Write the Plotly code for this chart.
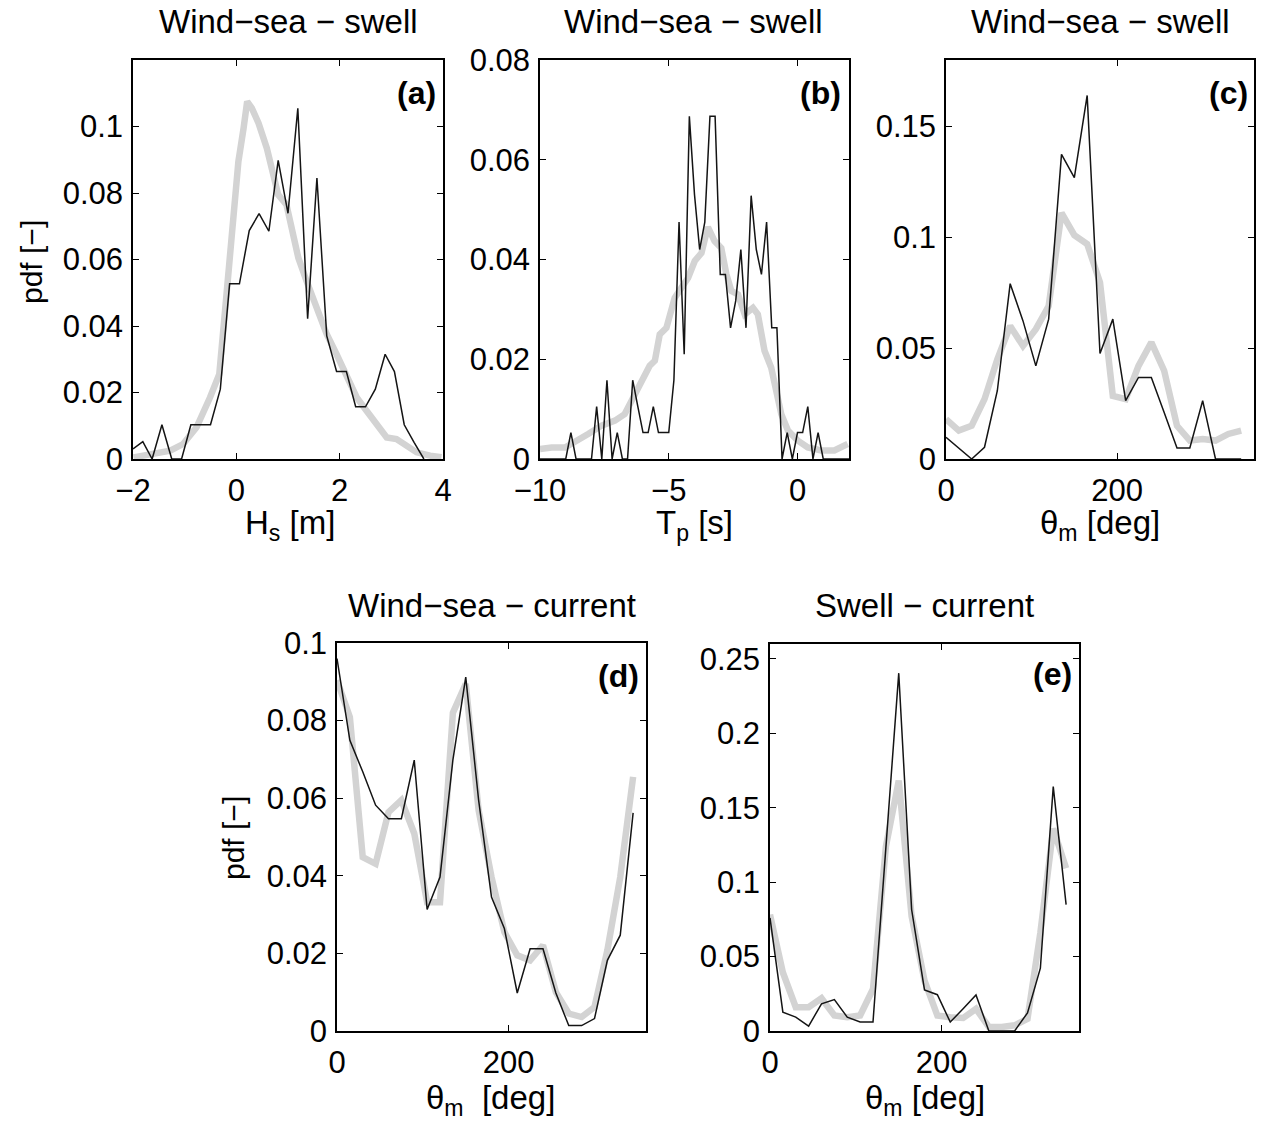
import plotly.graph_objects as go

# ---------------- data ----------------
# (a) Hs difference
hs_x_black = [-2.0, -1.81, -1.63, -1.44, -1.25, -1.06, -0.88, -0.69, -0.5, -0.31, -0.13,
              0.06, 0.25, 0.44, 0.63, 0.81, 1.0, 1.19, 1.38, 1.56, 1.75, 1.94, 2.13,
              2.31, 2.5, 2.69, 2.88, 3.06, 3.25, 3.44, 3.63]
hs_black = [0.003, 0.0052, 0.0, 0.0103, 0.0, 0.0, 0.0103, 0.0103, 0.0103, 0.021, 0.0527,
            0.0527, 0.0687, 0.0738, 0.0685, 0.0898, 0.0739, 0.1055, 0.0422, 0.0845, 0.037,
            0.0263, 0.0263, 0.0157, 0.0157, 0.021, 0.0315, 0.0263, 0.0103, 0.005, 0.0]
hs_x_grey = [-1.99, -1.67, -1.28, -1.03, -0.77, -0.51, -0.33, -0.19, -0.06, 0.04, 0.14,
             0.21, 0.30, 0.43, 0.59, 0.72, 0.81, 0.97, 1.10, 1.20, 1.36, 1.55, 1.75, 1.94,
             2.14, 2.33, 2.52, 2.72, 2.91, 3.10, 3.30, 3.49, 3.75, 3.97]
hs_grey = [0.0005, 0.0015, 0.0025, 0.0045, 0.0095, 0.0185, 0.0255, 0.0495, 0.0715, 0.0895,
           0.0995, 0.1075, 0.1055, 0.101, 0.0935, 0.0855, 0.0795, 0.0765, 0.0675, 0.0605,
           0.0535, 0.0455, 0.0375, 0.0315, 0.0245, 0.0185, 0.0145, 0.0105, 0.0065, 0.006,
           0.004, 0.002, 0.001, 0.0005]

# (b) Tp difference
tp_x_black = [-10.0, -9.8, -9.6, -9.4, -9.2, -9.0, -8.8, -8.6, -8.4, -8.2, -8.0, -7.8, -7.6,
              -7.4, -7.2, -7.0, -6.8, -6.6, -6.4, -6.2, -6.0, -5.8, -5.6, -5.4, -5.2, -5.0,
              -4.8, -4.6, -4.4, -4.2, -4.0, -3.8, -3.6, -3.4, -3.2, -3.0, -2.8, -2.6, -2.4,
              -2.2, -2.0, -1.8, -1.6, -1.4, -1.2, -1.0, -0.8, -0.6, -0.4, -0.2, 0.0, 0.2,
              0.4, 0.6, 0.8, 1.0, 1.2, 1.4, 1.6, 1.8, 2.0]
tp_black = [0, 0, 0, 0, 0, 0, 0.0053, 0, 0, 0, 0, 0.0105, 0,
            0.0158, 0, 0.0053, 0, 0, 0.0158, 0.0105, 0.0053, 0.0053, 0.0105, 0.0053, 0.0053, 0.0053,
            0.0158, 0.0475, 0.021, 0.0687, 0.053, 0.042, 0.0475, 0.0687, 0.0687, 0.037, 0.037, 0.0263, 0.0317,
            0.042, 0.0263, 0.0528, 0.042, 0.037, 0.0475, 0.0263, 0.0263, 0, 0.0053, 0, 0.0053, 0.0053,
            0.0105, 0, 0.0053, 0, 0, 0, 0, 0, 0]
tp_x_grey = [-10.0, -9.55, -9.03, -8.51, -8.13, -7.61, -7.09, -6.71, -6.32, -6.06, -5.74,
             -5.54, -5.35, -5.09, -4.90, -4.77, -4.51, -4.25, -3.99, -3.73, -3.48, -3.22,
             -2.96, -2.76, -2.57, -2.31, -2.05, -1.73, -1.54, -1.28, -1.02, -0.63, -0.37,
             0.01, 0.40, 0.92, 1.43, 1.95]
tp_grey = [0.002, 0.0023, 0.0023, 0.0037, 0.005, 0.0067, 0.0077, 0.009, 0.013, 0.015, 0.0187,
           0.0197, 0.025, 0.0263, 0.0303, 0.0323, 0.0343, 0.0363, 0.0397, 0.0413, 0.0465, 0.0437,
           0.0423, 0.037, 0.0337, 0.033, 0.029, 0.0303, 0.029, 0.0217, 0.0183, 0.009, 0.0057,
           0.0037, 0.0023, 0.0017, 0.0017, 0.003]

# directions (c, d, e) on a 15-degree grid
dir_x = [0, 15, 30, 45, 60, 75, 90, 105, 120, 135, 150, 165, 180, 195, 210, 225, 240,
         255, 270, 285, 300, 315, 330, 345]
# (c) wind-sea - swell mean direction
ws_sw_black = [0.0098, 0.005, 0.0, 0.0053, 0.0308, 0.0791, 0.0623, 0.042, 0.0631, 0.1374,
               0.1269, 0.164, 0.0476, 0.0631, 0.0263, 0.0368, 0.0368, 0.021, 0.005, 0.005,
               0.0263, 0.0, 0.0, 0.0]
ws_sw_grey = [0.018, 0.0128, 0.015, 0.027, 0.045, 0.060, 0.051, 0.0586, 0.069, 0.111,
              0.101, 0.097, 0.0796, 0.0285, 0.027, 0.042, 0.0526, 0.0398, 0.015, 0.0083,
              0.009, 0.0083, 0.0113, 0.0128]
# (d) wind-sea - current
ws_cu_black = [0.096, 0.0749, 0.0668, 0.0582, 0.0547, 0.0547, 0.0698, 0.0313, 0.0397, 0.0698,
               0.0912, 0.0595, 0.0345, 0.0264, 0.0098, 0.0212, 0.0212, 0.0098, 0.0014, 0.0014,
               0.0032, 0.0182, 0.0247, 0.0562]
ws_cu_grey = [0.0904, 0.0809, 0.0448, 0.0431, 0.0564, 0.0595, 0.0509, 0.0332, 0.0332, 0.082,
              0.0895, 0.0569, 0.0397, 0.0255, 0.0195, 0.0182, 0.0221, 0.010, 0.0045, 0.0036,
              0.0062, 0.0208, 0.0397, 0.0655]
# (e) swell - current
sw_cu_black = [0.076, 0.0127, 0.0093, 0.0033, 0.0182, 0.0211, 0.0093, 0.006, 0.006, 0.1238,
               0.2404, 0.0816, 0.0276, 0.0244, 0.006, 0.0149, 0.0242, 0.0, 0.0, 0.0,
               0.0122, 0.0422, 0.1642, 0.0849]
sw_cu_grey = [0.0782, 0.0393, 0.016, 0.016, 0.022, 0.0104, 0.0093, 0.0104, 0.0282, 0.1238,
              0.1682, 0.0771, 0.0338, 0.0104, 0.0093, 0.0087, 0.0149, 0.0027, 0.0027, 0.0038,
              0.0082, 0.066, 0.136, 0.1093]

# tick definitions
a_xt = [-2, 0, 2, 4]; a_xl = ["\u22122", "0", "2", "4"]
a_yt = [0, 0.02, 0.04, 0.06, 0.08, 0.1]; a_yl = ["0", "0.02", "0.04", "0.06", "0.08", "0.1"]
b_xt = [-10, -5, 0]; b_xl = ["\u221210", "\u22125", "0"]
b_yt = [0, 0.02, 0.04, 0.06, 0.08]; b_yl = ["0", "0.02", "0.04", "0.06", "0.08"]
c_xt = [0, 200]; c_xl = ["0", "200"]
c_yt = [0, 0.05, 0.1, 0.15]; c_yl = ["0", "0.05", "0.1", "0.15"]
d_yt = [0, 0.02, 0.04, 0.06, 0.08, 0.1]; d_yl = ["0", "0.02", "0.04", "0.06", "0.08", "0.1"]
e_yt = [0, 0.05, 0.1, 0.15, 0.2, 0.25]; e_yl = ["0", "0.05", "0.1", "0.15", "0.2", "0.25"]

# ---------------- layout ----------------
W, H = 1261, 1125
FONT = "Liberation Sans, Arial, Helvetica, sans-serif"
GREY = "rgb(211,211,211)"
BLACK = "rgb(20,20,20)"

def px(x):
    return x / W

def py(y):
    return 1 - y / H

# panel boxes in pixels: left, right, top, bottom
boxes = {
    "a": (133, 443, 60, 459),
    "b": (540, 849, 60, 459),
    "c": (946, 1254, 60, 459),
    "d": (337, 646, 643, 1031),
    "e": (770, 1079, 644, 1031),
}

fig = go.Figure()

panels = [
    ("a", hs_x_grey, hs_grey, hs_x_black, hs_black, [-2, 4], [0, 0.12], a_xt, a_xl, a_yt, a_yl),
    ("b", tp_x_grey, tp_grey, tp_x_black, tp_black, [-10, 2], [0, 0.08], b_xt, b_xl, b_yt, b_yl),
    ("c", dir_x, ws_sw_grey, dir_x, ws_sw_black, [0, 360], [0, 0.18], c_xt, c_xl, c_yt, c_yl),
    ("d", dir_x, ws_cu_grey, dir_x, ws_cu_black, [0, 360], [0, 0.1], c_xt, c_xl, d_yt, d_yl),
    ("e", dir_x, sw_cu_grey, dir_x, sw_cu_black, [0, 360], [0, 0.26], c_xt, c_xl, e_yt, e_yl),
]

for i, (key, gx, gy, bx, by, xr, yr, xt, xl, yt, yl) in enumerate(panels, start=1):
    sfx = "" if i == 1 else str(i)
    fig.add_trace(go.Scatter(x=gx, y=gy, mode="lines", line=dict(color=GREY, width=6.5),
                             xaxis="x" + sfx, yaxis="y" + sfx, showlegend=False))
    fig.add_trace(go.Scatter(x=bx, y=by, mode="lines", line=dict(color=BLACK, width=1.5),
                             xaxis="x" + sfx, yaxis="y" + sfx, showlegend=False))
    l, r, t, b = boxes[key]
    common = dict(showline=True, linecolor="black", linewidth=1.5, mirror="ticks",
                  ticks="inside", ticklen=6, tickwidth=1, tickcolor="black",
                  showgrid=False, zeroline=False, automargin=False,
                  tickfont=dict(family=FONT, size=31, color="black"))
    fig.update_layout(**{
        "xaxis" + sfx: dict(domain=[px(l), px(r)], range=xr, anchor="y" + sfx,
                            tickvals=xt, ticktext=xl, ticklabelstandoff=3, **common),
        "yaxis" + sfx: dict(domain=[py(b), py(t)], range=yr, anchor="x" + sfx,
                            tickvals=yt, ticktext=yl, ticklabelstandoff=2, **common),
    })

annotations = []

def text(s, x, y, size=33, bold=False, angle=0, xanchor="center"):
    annotations.append(dict(text=("<b>%s</b>" % s) if bold else s, x=px(x), y=py(y),
                            xref="paper", yref="paper", showarrow=False, textangle=angle,
                            xanchor=xanchor, yanchor="middle",
                            font=dict(family=FONT, size=size, color="black")))

# titles
text("Wind\u2212sea \u2212 swell", 288, 22)
text("Wind\u2212sea \u2212 swell", 693, 22)
text("Wind\u2212sea \u2212 swell", 1100, 22)
text("Wind\u2212sea \u2212 current", 492, 605)
text("Swell \u2212 current", 925, 605)

# x axis labels
text("H<sub>s</sub> [m]", 290, 525)
text("T<sub>p</sub> [s]", 694, 525)
text("\u03b8<sub>m</sub> [deg]", 1100, 525)
text("\u03b8<sub>m</sub>\u00a0 [deg]", 490, 1100)
text("\u03b8<sub>m</sub> [deg]", 925, 1100)

# y axis labels
text("pdf [\u2212]", 31, 262, size=30, angle=-90)
text("pdf [\u2212]", 233, 838, size=30, angle=-90)

# panel labels
text("(a)", 438, 93, size=32, bold=True, xanchor="right")
text("(b)", 843, 93, size=32, bold=True, xanchor="right")
text("(c)", 1250, 93, size=32, bold=True, xanchor="right")
text("(d)", 641, 676, size=32, bold=True, xanchor="right")
text("(e)", 1074, 674, size=32, bold=True, xanchor="right")

fig.update_layout(template="none", width=W, height=H, margin=dict(l=0, r=0, t=0, b=0, pad=0),
                  paper_bgcolor="white", plot_bgcolor="white",
                  annotations=annotations, showlegend=False)

fig.write_html("out.html")
